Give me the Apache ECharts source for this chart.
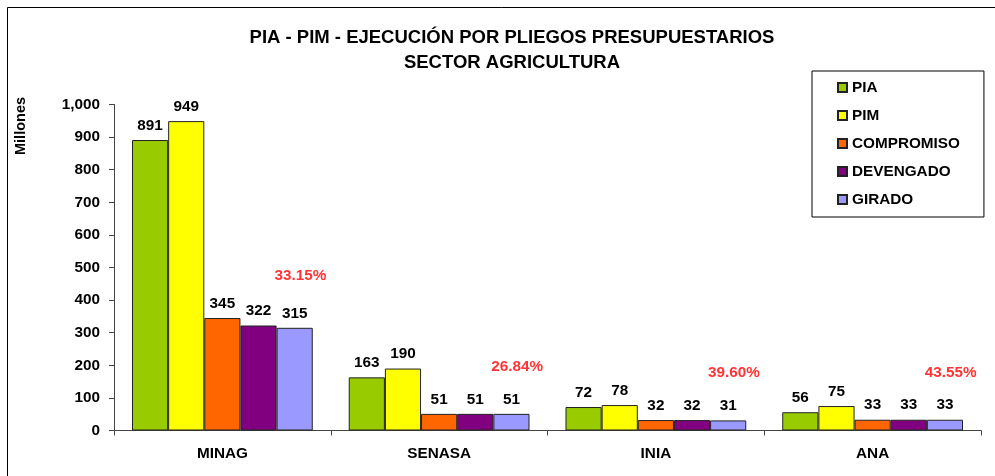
<!DOCTYPE html>
<html>
<head>
<meta charset="utf-8">
<script src="https://cdn.jsdelivr.net/npm/echarts@6/dist/echarts.min.js"></script>
<style>
  html, body { margin: 0; padding: 0; background: #fff; }
  #chart { width: 995px; height: 476px; }
</style>
</head>
<body>
<div id="chart"></div>
<script>
const categories = ['MINAG', 'SENASA', 'INIA', 'ANA']
const pia = [891, 163, 72, 56]
const pim = [949, 190, 78, 75]
const compromiso = [345, 51, 32, 33]
const devengado = [322, 51, 32, 33]
const girado = [315, 51, 31, 33]
// percent labels (girado / pim) and the height where each one sits
const pctLabels = ['33.15%', '26.84%', '39.60%', '43.55%']
const pctHeights = [476, 197, 178, 178]

const font = 'Arial, "Liberation Sans", sans-serif'

function barSeries(name, color, data) {
  return {
    name: name,
    type: 'bar',
    barGap: '0%',
    barCategoryGap: '16.6%',
    data: data,
    itemStyle: { color: color, borderColor: '#222', borderWidth: 1 },
    label: {
      show: true,
      position: 'top',
      distance: 7,
      fontFamily: font,
      fontWeight: 'bold',
      fontSize: 15.3,
      color: '#000'
    }
  }
}

let myChart = echarts.init(document.getElementById('chart'))
myChart.setOption({
  animation: false,
  title: {
    text: 'PIA - PIM - EJECUCIÓN POR PLIEGOS PRESUPUESTARIOS\nSECTOR AGRICULTURA',
    left: 507,
    textAlign: 'center',
    top: 20,
    textStyle: { fontFamily: font, fontWeight: 'bold', fontSize: 18.5, lineHeight: 25, color: '#000' }
  },
  graphic: [
    {
      type: 'rect',
      shape: { x: 7.5, y: 7.5, width: 1000, height: 500 },
      style: { fill: 'none', stroke: '#000', lineWidth: 1 },
      silent: true
    },
    {
      type: 'text',
      x: 21,
      y: 126,
      rotation: Math.PI / 2,
      style: {
        text: 'Millones',
        fontFamily: font,
        fontWeight: 'bold',
        fontSize: 14.5,
        fill: '#000',
        textAlign: 'center',
        textVerticalAlign: 'middle'
      }
    }
  ],
  legend: {
    orient: 'vertical',
    left: 812,
    top: 71,
    padding: [8, 24, 9, 25],
    icon: 'rect',
    itemWidth: 9,
    itemHeight: 9,
    itemGap: 11,
    borderColor: '#000',
    borderWidth: 1,
    data: ['PIA', 'PIM', 'COMPROMISO', 'DEVENGADO', 'GIRADO'],
    textStyle: { fontFamily: font, fontWeight: 'bold', fontSize: 15.3, lineHeight: 17, color: '#000' }
  },
  grid: { left: 114, right: 14, top: 104.5, bottom: 45.5 },
  xAxis: {
    type: 'category',
    data: categories,
    axisLine: { lineStyle: { color: '#444' } },
    axisTick: { show: true, length: 5, lineStyle: { color: '#444' } },
    axisLabel: { margin: 16, fontFamily: font, fontWeight: 'bold', fontSize: 15.3, color: '#000' }
  },
  yAxis: {
    type: 'value',
    min: 0,
    max: 1000,
    interval: 100,
    splitLine: { show: false },
    axisLine: { show: true, lineStyle: { color: '#444' } },
    axisTick: { show: true, length: 5, lineStyle: { color: '#444' } },
    axisLabel: {
      margin: 14,
      fontFamily: font,
      fontWeight: 'bold',
      fontSize: 15.3,
      color: '#000',
      formatter: v => v.toLocaleString('en-US')
    }
  },
  series: [
    barSeries('PIA', '#99CC00', pia),
    barSeries('PIM', '#FFFF00', pim),
    barSeries('COMPROMISO', '#FF6600', compromiso),
    barSeries('DEVENGADO', '#800080', devengado),
    barSeries('GIRADO', '#9999FF', girado),
    {
      name: 'pct',
      type: 'scatter',
      symbolSize: 0,
      silent: true,
      data: pctHeights,
      label: {
        show: true,
        position: 'inside',
        offset: [78, 0],
        formatter: p => pctLabels[p.dataIndex],
        fontFamily: font,
        fontWeight: 'bold',
        fontSize: 15.3,
        color: '#FF0000'
      }
    }
  ]
})
</script>
</body>
</html>
